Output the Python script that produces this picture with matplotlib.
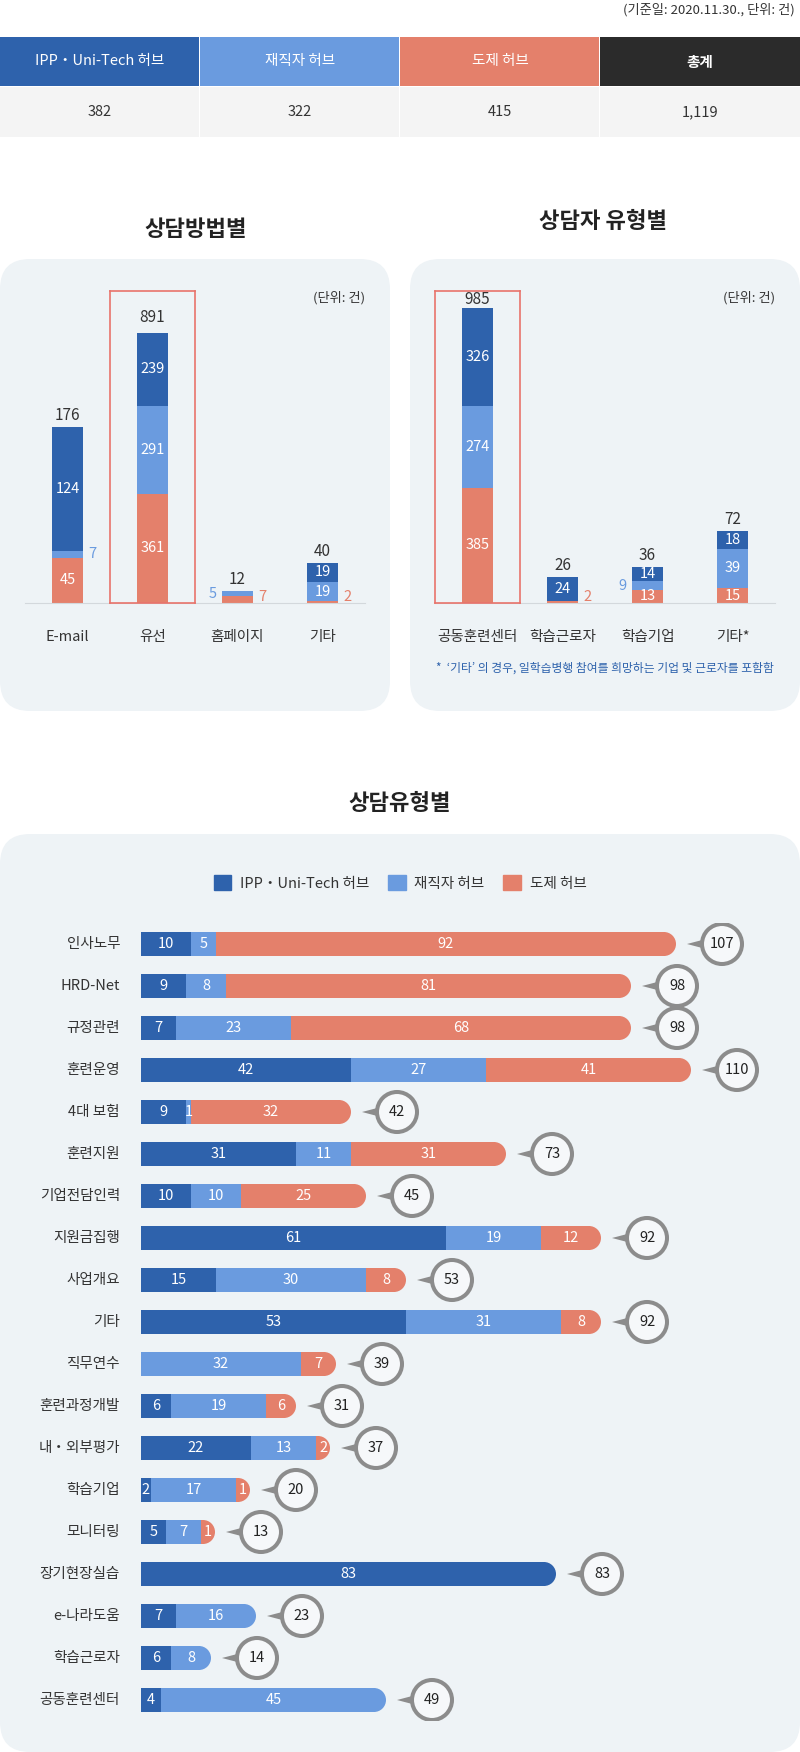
import matplotlib
matplotlib.use('Agg')
import matplotlib.pyplot as plt
from matplotlib.patches import FancyBboxPatch, Rectangle, Wedge, Circle, Polygon

plt.rcParams['font.family'] = ['Noto Sans CJK KR', 'DejaVu Sans']

W, H = 800, 1752
C_IPP = '#2E62AC'
C_JOB = '#6A9BDF'
C_DOJE = '#E4806B'
C_TOT = '#2B2B2B'
PANEL = '#EEF3F6'
TXT = '#333333'

# summary table
hub_names = ['IPP・Uni-Tech 허브', '재직자 허브', '도제 허브', '총계']
hub_counts = [382, 322, 415, 1119]
series_names = ['IPP・Uni-Tech 허브', '재직자 허브', '도제 허브']

# 상담방법별
method_cats = ['E-mail', '유선', '홈페이지', '기타']
method_ipp = [124, 239, 0, 19]
method_job = [7, 291, 5, 19]
method_doje = [45, 361, 7, 2]

# 상담자 유형별
client_cats = ['공동훈련센터', '학습근로자', '학습기업', '기타*']
client_ipp = [326, 24, 14, 18]
client_job = [274, 0, 9, 39]
client_doje = [385, 2, 13, 15]

# 상담유형별
topic_cats = ['인사노무', 'HRD-Net', '규정관련', '훈련운영', '4대 보험', '훈련지원',
              '기업전담인력', '지원금집행', '사업개요', '기타', '직무연수', '훈련과정개발',
              '내・외부평가', '학습기업', '모니터링', '장기현장실습', 'e-나라도움',
              '학습근로자', '공동훈련센터']
topic_ipp = [10, 9, 7, 42, 9, 31, 10, 61, 15, 53, 0, 6, 22, 2, 5, 83, 7, 6, 4]
topic_job = [5, 8, 23, 27, 1, 11, 10, 19, 30, 31, 32, 19, 13, 17, 7, 0, 16, 8, 45]
topic_doje = [92, 81, 68, 41, 32, 31, 25, 12, 8, 8, 7, 6, 2, 1, 1, 0, 0, 0, 0]


def frac(x, y, w, h):
    return [x / W, 1 - (y + h) / H, w / W, h / H]


fig = plt.figure(figsize=(8, 17.52), dpi=100, facecolor='white')
bg = fig.add_axes([0, 0, 1, 1])
bg.set_xlim(0, W)
bg.set_ylim(H, 0)
bg.axis('off')

# top note + table
bg.text(795, 10, '(기준일: 2020.11.30., 단위: 건)', ha='right', va='center',
        fontsize=9.5, color=TXT)
head_cols = [C_IPP, C_JOB, C_DOJE, C_TOT]
for i, (name, cnt) in enumerate(zip(hub_names, hub_counts)):
    cw = 199 if i < 3 else 200
    bg.add_patch(Rectangle((i * 200, 37), cw, 49, color=head_cols[i], lw=0))
    bg.text(i * 200 + 100, 61.5, name, ha='center', va='center', color='white',
            fontsize=10.5, fontweight='bold' if i == 3 else 'normal')
    bg.add_patch(Rectangle((i * 200, 87), cw, 50, color='#F4F4F4', lw=0))
    bg.text(i * 200 + 100, 112, f'{cnt:,}', ha='center', va='center', color=TXT,
            fontsize=10.5)

# panels and titles
for px in (0, 410):
    bg.add_patch(FancyBboxPatch((px, 259), 390, 452,
                                boxstyle='round,pad=0,rounding_size=30',
                                fc=PANEL, ec='none'))
bg.add_patch(FancyBboxPatch((0, 834), 800, 918,
                            boxstyle='round,pad=0,rounding_size=30',
                            fc=PANEL, ec='none'))
bg.text(196, 229, '상담방법별', ha='center', va='center', fontsize=16,
        fontweight='bold', color='#222222')
bg.text(603, 222, '상담자 유형별', ha='center', va='center', fontsize=16,
        fontweight='bold', color='#222222')
bg.text(400, 803, '상담유형별', ha='center', va='center', fontsize=16,
        fontweight='bold', color='#222222')
bg.text(365, 298, '(단위: 건)', ha='right', va='center', fontsize=9.5, color=TXT)
bg.text(775, 298, '(단위: 건)', ha='right', va='center', fontsize=9.5, color=TXT)
bg.text(436, 668, '*  ‘기타’ 의 경우, 일학습병행 참여를 희망하는 기업 및 근로자를 포함함',
        ha='left', va='center', fontsize=8.5, color=C_IPP)


def stacked_columns(x0, focus_x0, cats, ipp, job, doje, focus, light_side,
                    focus_top, focus_gap):
    ax = fig.add_axes(frac(x0, 291, 340, 312))
    ax.set_xlim(-0.5, 3.5)
    ax.set_ylim(0, 312)
    ax.patch.set_alpha(0)
    for s in ('top', 'left', 'right'):
        ax.spines[s].set_visible(False)
    ax.spines['bottom'].set_color('#D3D8DC')
    ax.set_xticks([])
    ax.set_yticks([])

    axf = fig.add_axes(frac(focus_x0, 291, 85, 312))
    axf.set_xlim(-0.5, 0.5)
    axf.set_ylim(0, focus_top)
    axf.patch.set_alpha(0)
    for s in axf.spines.values():
        s.set_color('#E8736B')
        s.set_linewidth(1.2)
    axf.set_xticks([])
    axf.set_yticks([])

    for i, cat in enumerate(cats):
        a = axf if i == focus else ax
        x = 0 if i == focus else i
        bottom = 0
        for vals, col, side in ((doje, C_DOJE, 1), (job, C_JOB, light_side[i]),
                                (ipp, C_IPP, 1)):
            v = vals[i]
            if v == 0:
                continue
            a.bar(x, v, 0.353, bottom=bottom, color=col, lw=0)
            if v >= 12:
                a.text(x, bottom + v / 2, str(v), ha='center', va='center',
                       color='white', fontsize=10.5)
            else:
                a.text(x + side * 0.29, max(bottom + v / 2, 6), str(v),
                       ha='center', va='center', color=col, fontsize=10.5)
            bottom += v
        gap = focus_gap if i == focus else 8.5
        a.annotate(str(bottom), (x, bottom), xytext=(0, gap),
                   textcoords='offset points', ha='center', va='center',
                   fontsize=11, color=TXT)
        ax.text(i, -34, cat, ha='center', va='center', fontsize=10.5, color=TXT,
                clip_on=False)


stacked_columns(25, 110, method_cats, method_ipp, method_job, method_doje,
                1, [1, 1, -1, 1], 1030, 11.5)
stacked_columns(435, 435, client_cats, client_ipp, client_job, client_doje,
                0, [1, 1, -1, 1], 1042, 6.5)

# 상담유형별 horizontal bars (5 px per unit both ways)
ROW, BAR_H, CAP = 8.4, 4.8, 2.4
n = len(topic_cats)
ax3 = fig.add_axes(frac(141, 923, 650, n * 42))
ax3.set_xlim(0, 130)
ax3.set_ylim(n * ROW - ROW / 2, -ROW / 2)
ax3.axis('off')

for i, cat in enumerate(topic_cats):
    y = i * ROW
    segs = [(v, c) for v, c in zip((topic_ipp[i], topic_job[i], topic_doje[i]),
                                   (C_IPP, C_JOB, C_DOJE)) if v > 0]
    left = 0
    for k, (v, c) in enumerate(segs):
        if k == len(segs) - 1:
            w = max(v, CAP + 0.4)
            ax3.barh(y, w - CAP + 0.1, height=BAR_H, left=left, color=c, lw=0)
            ax3.add_patch(Wedge((left + w - CAP, y), CAP, -90, 90, color=c, lw=0))
        else:
            w = v
            ax3.barh(y, w, height=BAR_H, left=left, color=c, lw=0)
        ax3.text(left + w / 2, y, str(v), ha='center', va='center',
                 color='white', fontsize=10.5)
        left += w
    total = topic_ipp[i] + topic_job[i] + topic_doje[i]
    ax3.add_patch(Polygon([(left + 2.2, y), (left + 6, y - 1), (left + 6, y + 1)],
                          closed=True, color='#8C8C8C', lw=0, zorder=3))
    ax3.add_patch(Circle((left + 9.2, y), 4.0, fc='#F6F8FA', ec='#8C8C8C',
                         lw=2.9, zorder=4))
    ax3.text(left + 9.2, y, str(total), ha='center', va='center', fontsize=10.5,
             color='#222222', zorder=5)
    ax3.text(-4.2, y, cat, ha='right', va='center', fontsize=10.5, color=TXT)

handles = [Rectangle((0, 0), 1, 1, color=c) for c in (C_IPP, C_JOB, C_DOJE)]
fig.legend(handles, series_names, loc='center', bbox_to_anchor=(0.5, 1 - 883 / H),
           ncol=3, frameon=False, fontsize=10.5, handlelength=1.2,
           handleheight=1.2, handletextpad=0.6, columnspacing=1.3,
           labelcolor=TXT)

fig.savefig('out.png', dpi=100)
